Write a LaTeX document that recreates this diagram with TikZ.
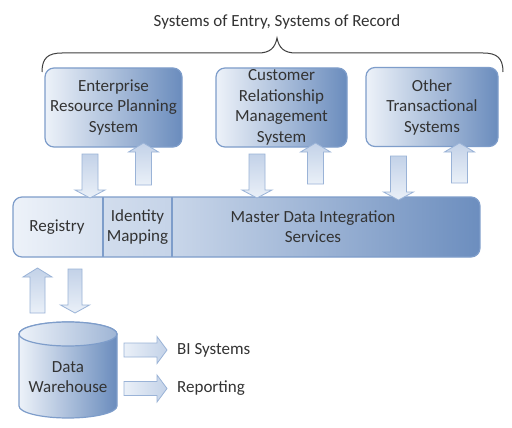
\documentclass[tikz,border=0pt]{standalone}
\usepackage{fontspec}
\setmainfont{Carlito}
\begin{document}
\begin{tikzpicture}[x=1pt,y=-1pt,
  txt/.style={text=black!80, font=\fontsize{17}{20.5}\selectfont, align=center, inner sep=0pt},
  sysbox/.style={draw=bord, line width=1.2pt, rounded corners=9pt, left color=boxl, right color=boxr, minimum width=137pt, minimum height=79pt, txt},
  varrow/.style={draw=arrb, line width=0.8pt, top color=arrd, bottom color=arrl},
  harrow/.style={draw=arrb, line width=0.8pt, left color=arrl, right color=arrd},
]
\definecolor{bord}{HTML}{7E9DCA}
\definecolor{boxl}{HTML}{EDF2F9}
\definecolor{boxr}{HTML}{6A8CBD}
\definecolor{arrb}{HTML}{9AB3D7}
\definecolor{arrd}{HTML}{C3D2E8}
\definecolor{arrl}{HTML}{EAF0F8}
\useasboundingbox (0,0) rectangle (512,428);
\fill[white] (0,0) rectangle (512,428);

% title and brace
\node[txt] (title) at (277,22) {Systems of Entry, Systems of Record};
\draw[black!75, line width=1pt] (42,72) .. controls (42,58) and (48,53) .. (62,53) -- (258,53)
  .. controls (270,53) and (275,48) .. (277,38) .. controls (279,48) and (284,53) .. (296,53)
  -- (483,53) .. controls (497,53) and (503,58) .. (503,72);

% system boxes
\node[sysbox] (erp) at (113.5,107.5) {Enterprise\\Resource Planning\\System};
\node[sysbox, minimum width=131pt] (crm) at (281.5,107.5) {Customer\\Relationship\\Management\\System};
\node[sysbox, minimum width=132pt] (oth) at (432,107) {Other\\Transactional\\Systems};

% master bar
\begin{scope}
\clip[rounded corners=9pt] (13,197) rectangle (480,257);
\shade[left color=boxl, right color=boxl!80!bord] (13,197) rectangle (103,257);
\shade[left color=boxl!65!bord!80, right color=boxl!55!bord!85] (103,197) rectangle (172,257);
\shade[left color=boxl!55!bord!80, right color=boxr!90!bord] (172,197) rectangle (480,257);
\end{scope}
\draw[bord, line width=1.2pt, rounded corners=9pt] (13,197) rectangle (480,257);
\draw[bord, line width=1.2pt] (103,197) -- (103,257) (172,197) -- (172,257);
\node[txt] (reg) at (57,227) {Registry};
\node[txt] (idm) at (137.5,227) {Identity\\Mapping};
\node[txt] (mdi) at (313,226.5) {Master Data Integration\\Services};

% vertical arrows between systems and bar
% down: center, top, headbase, tip
\foreach \c/\t/\b/\p in {90/154/190/198, 257/154/190/198, 398.5/156/192/200}{
  \path[varrow] (\c-8,\t) -- (\c+8,\t) -- (\c+8,\b) -- (\c+15,\b) -- (\c,\p) -- (\c-15,\b) -- (\c-8,\b) -- cycle;
}
% up: center, tip, headbase, bottom
\foreach \c/\p/\b/\e in {143.5/143/152/185, 315.5/143/152/184, 459.5/143/152/183}{
  \path[varrow] (\c,\p) -- (\c+15,\b) -- (\c+8,\b) -- (\c+8,\e) -- (\c-8,\e) -- (\c-8,\b) -- (\c-15,\b) -- cycle;
}
% bottom arrows
\path[varrow] (37.5,268) -- (52,277) -- (45,277) -- (45,313) -- (30,313) -- (30,277) -- (23,277) -- cycle;
\path[varrow] (68,269) -- (82,269) -- (82,305) -- (89.5,305) -- (75,313) -- (60.5,305) -- (68,305) -- cycle;

% data warehouse cylinder
\shade[left color=boxl, right color=boxr, draw=bord, line width=1.2pt]
  (19,334) -- (19,406) arc[start angle=180, end angle=360, x radius=49, y radius=-12] -- (117,334)
  arc[start angle=0, end angle=180, x radius=49, y radius=-12] -- cycle;
\shade[left color=boxl, right color=boxr!60!boxl, draw=bord, line width=1.2pt] (68,334) ellipse[x radius=49, y radius=12];
\node[txt] (dw) at (68,377) {Data\\Warehouse};

% horizontal arrows
\foreach \m in {350,388.5}{
  \path[harrow] (124,\m-7) -- (157,\m-7) -- (157,\m-13.5) -- (167,\m) -- (157,\m+13.5) -- (157,\m+7) -- (124,\m+7) -- cycle;
}
\node[txt, anchor=west] (bi) at (177,350) {BI Systems};
\node[txt, anchor=west] (rep) at (177,388.5) {Reporting};
\end{tikzpicture}
\end{document}
